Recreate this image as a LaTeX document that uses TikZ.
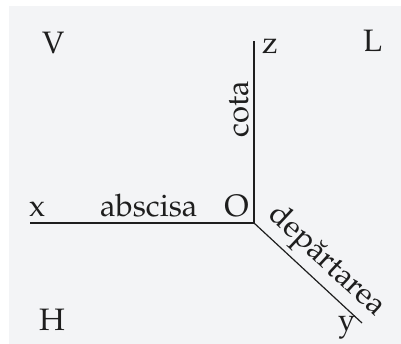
\documentclass[tikz,border=0pt]{standalone}
\usepackage[T1]{fontenc}
\usepackage{mathpazo}
\definecolor{bg}{RGB}{243,244,246}
\definecolor{ink}{RGB}{30,30,30}
\begin{document}
\begin{tikzpicture}[x=1pt,y=-1pt,
  lbl/.style={inner sep=0pt, text=ink, font=\fontsize{31}{37}\selectfont},
  axis/.style={draw=ink, line width=1.2pt}]
\useasboundingbox (0,0) rectangle (401,344);
\fill[bg] (9,6) rectangle (401,344);
\coordinate (O) at (254,223);
\coordinate (X) at (30,223);
\coordinate (Z) at (254,41);
\coordinate (Y) at (362,323);
\draw[axis] (X) -- (O);
\draw[axis] (O) -- (Z);
\draw[axis] (O) -- (Y);
\node[lbl, anchor=base west] (V) at (42,54) {V};
\node[lbl, anchor=base west] (L) at (363,52) {L};
\node[lbl, anchor=base west] (zl) at (262,54) {z};
\node[lbl, anchor=base west] (H) at (39,330) {H};
\node[lbl, anchor=base west] (xl) at (29,217) {x};
\node[lbl, anchor=base west] (abs) at (100,217) {abscisa};
\node[lbl, anchor=base east] (Ol) at (249,217) {O};
\node[lbl, anchor=base west] (yl) at (338,330) {y};
\node[lbl, rotate=90, anchor=base] (cota) at (248,109.5) {cota};
\node[lbl, rotate=-43, anchor=center] (dep) at (326,262) {dep\u{a}rtarea};
\end{tikzpicture}
\end{document}
